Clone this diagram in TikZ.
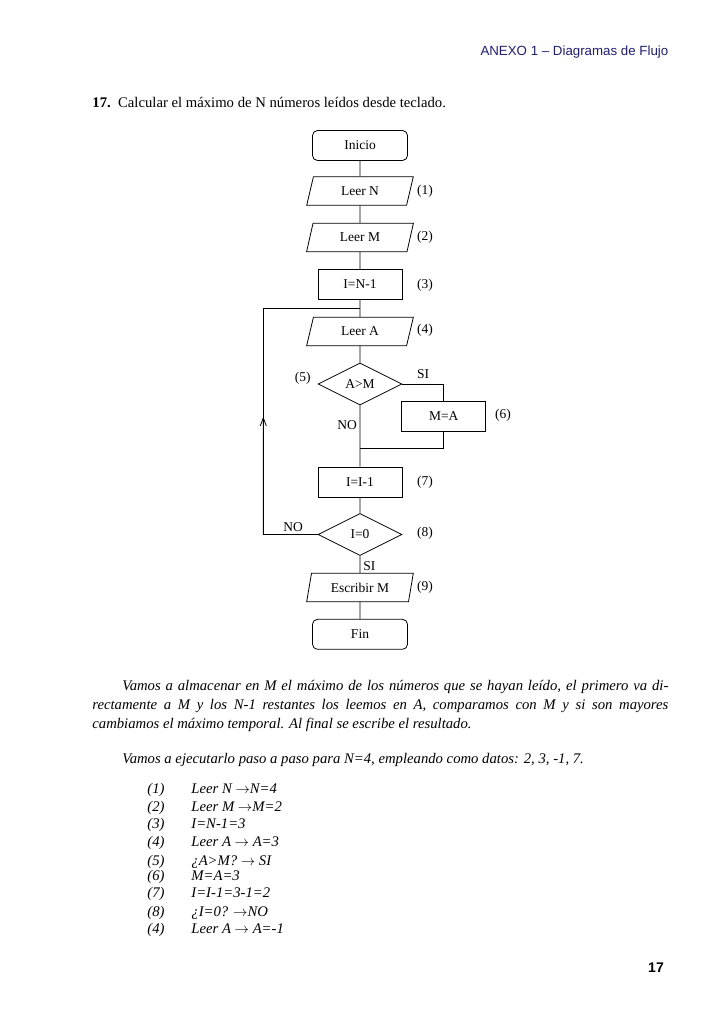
\documentclass[tikz,border=0pt]{standalone}
\usepackage{fontspec}
\setmainfont{Liberation Serif}
\setsansfont{Liberation Sans}
\usetikzlibrary{shapes.geometric}
\usetikzlibrary{arrows.meta}
\usetikzlibrary{calc}
\definecolor{anexo}{RGB}{30,30,110}
\tikzset{
  term/.style={draw, rounded corners=5pt, minimum width=95pt, minimum height=30pt, inner sep=0pt},
  proc/.style={draw, minimum width=84pt, minimum height=30pt, inner sep=0pt},
  io/.style={draw, trapezium, trapezium left angle=73, trapezium right angle=107,
    trapezium stretches=true, minimum width=107pt, minimum height=28.5pt, inner sep=0pt},
  dec/.style={draw, diamond, minimum width=84pt, minimum height=42pt, inner sep=0pt},
  cuerpo/.style={font=\itshape\fontsize{14.7}{19}\selectfont, inner sep=0pt},
}
\begin{document}
\begin{tikzpicture}[x=1pt,y=-1pt,line width=0.8pt,
  every node/.append style={font=\fontsize{13.5}{16}\selectfont}]
   \useasboundingbox (0,0) rectangle (728,1031);

   % cabecera y enunciado
   \node[anchor=east, font=\sffamily\fontsize{13.3}{15}\selectfont, text=anexo] (cab) at (672,52) {ANEXO 1 – Diagramas de Flujo};
   \node[anchor=west, font=\fontsize{14.7}{18}\selectfont, inner sep=0pt] (tit) at (92,102) {\textbf{17.}\ \ Calcular el máximo de N números leídos desde teclado.};

   % diagrama
   \node[term] (ini) at (360,145.5) {Inicio};
   \node[io] (lN) at (360,191) {Leer N};
   \node[io] (lM) at (360,237.5) {Leer M};
   \node[proc] (iN) at (360,284.5) {I=N-1};
   \node[io] (lA) at (360,331.5) {Leer A};
   \node[dec] (cmp) at (360,384) {A>M};
   \node[proc] (mA) at (443.7,416.5) {M=A};
   \node[proc] (iI) at (360,482) {I=I-1};
   \node[dec] (cero) at (360,534.5) {I=0};
   \node[io] (escM) at (360,587.5) {Escribir M};
   \node[term] (fin) at (360,634.3) {Fin};

   \coordinate (jA) at (360,308);
   \coordinate (jM) at (360,448.3);
   \coordinate (lpB) at (263.3,534.5);
   \coordinate (lpT) at (263.3,308);

   \draw (ini) -- (lN) -- (lM) -- (iN) -- (lA) -- (cmp) -- (iI) -- (cero) -- (escM) -- (fin);
   \draw (cmp.east) -| (mA.north);
   \draw (mA.south) |- (jM);
   \draw (cero.west) -- (lpB) -- (lpT) -- (jA);
   \draw[-{Straight Barb[length=8pt,width=6pt]}] (lpB) -- ($(lpB)!0.52!(lpT)$);

   \foreach \n/\y in {1/191,2/237,3/285,4/330,7/482,8/533,9/587}
      \node (num\n) at (425,\y) {(\n)};
   \node (num5) at (302.7,378) {(5)};
   \node (num6) at (503,415) {(6)};
   \node (si1) at (423,374) {SI};
   \node (no1) at (347,425) {NO};
   \node (no2) at (293,526.7) {NO};
   \node (si2) at (369.3,565.7) {SI};

   % texto
   \node[cuerpo, anchor=north west, text width=576pt, align=justify] (par) at (92,680)
      {\hspace*{30pt}Vamos a almacenar en M el máximo de los números que se hayan leído, el primero va di-\linebreak
       rectamente a M y los N-1 restantes los leemos en A, comparamos con M y si son mayores\linebreak
       cambiamos el máximo temporal. Al final se escribe el resultado.};
   \node[cuerpo, anchor=west] (ejem) at (122,760) {Vamos a ejecutarlo paso a paso para N=4, empleando como datos: 2, 3, -1, 7.};

   \foreach \n/\t/\y in {1/{Leer N $\rightarrow$N=4}/788.3, 2/{Leer M $\rightarrow$M=2}/806.7,
      3/{I=N-1=3}/823.3, 4/{Leer A $\rightarrow$ A=3}/841.7, 5/{¿A>M? $\rightarrow$ SI}/860,
      6/{M=A=3}/875.7, 7/{I=I-1=3-1=2}/892.7, 8/{¿I=0? $\rightarrow$NO}/911.7, 4/{Leer A $\rightarrow$ A=-1}/928.3}{
      \node[cuerpo, anchor=base west] (p\n) at (147,\y+5) {(\n)};
      \node[cuerpo, anchor=base west] (t\n) at (191,\y+5) {\t};
   }

   \node[font=\sffamily\bfseries\fontsize{14}{16}\selectfont] (pag) at (656,968) {17};
\end{tikzpicture}
\end{document}
